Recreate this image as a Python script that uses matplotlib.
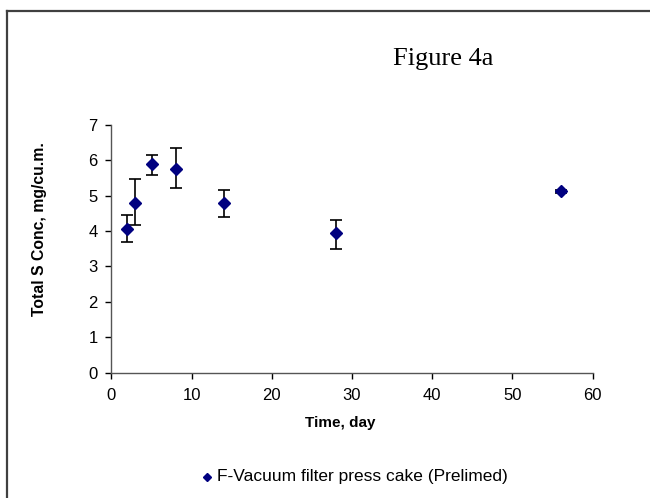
import matplotlib
matplotlib.use("Agg")
import matplotlib.pyplot as plt
from matplotlib.lines import Line2D

# data
days = [2, 3, 5, 8, 14, 28, 56]
conc = [4.05, 4.79, 5.89, 5.76, 4.79, 3.93, 5.12]
err_lo = [0.35, 0.63, 0.32, 0.54, 0.39, 0.44, 0.04]
err_hi = [0.40, 0.67, 0.26, 0.59, 0.37, 0.38, 0.04]
x_ticks = [0, 10, 20, 30, 40, 50, 60]
y_ticks = [0, 1, 2, 3, 4, 5, 6, 7]
series_label = "F-Vacuum filter press cake (Prelimed)"

W, H = 650, 498
fig = plt.figure(figsize=(W / 100, H / 100), dpi=100)
plt.rcParams["font.family"] = ["Liberation Sans", "DejaVu Sans"]

# outer frame (only left and top edges visible)
fig.add_artist(Line2D([7 / W, 7 / W], [0, 1 - 11 / H], transform=fig.transFigure,
                      color="#404040", lw=1.6))
fig.add_artist(Line2D([7 / W, 1], [1 - 11 / H, 1 - 11 / H], transform=fig.transFigure,
                      color="#404040", lw=1.6))

left, right = 111.4 / W, 592.7 / W
bottom, top = 1 - 372.7 / H, 1 - 124.7 / H
ax = fig.add_axes([left, bottom, right - left, top - bottom])

ax.errorbar(days, conc, yerr=[err_lo, err_hi], fmt="none", ecolor="black",
            elinewidth=1.2, capsize=4, capthick=1.2, zorder=2)
ax.plot(days, conc, linestyle="none", marker="D", markersize=6.5,
        color="#000080", markeredgecolor="#000080", zorder=3)

ax.set_xlim(0, 60)
ax.set_ylim(0, 7)
ax.set_xticks(x_ticks)
ax.set_yticks(y_ticks)
ax.tick_params(labelsize=12, direction="out", length=4, width=1, color="black")
ax.tick_params(axis="x", pad=7)
ax.tick_params(axis="y", pad=6)
ax.spines["top"].set_visible(False)
ax.spines["right"].set_visible(False)
for s in ("left", "bottom"):
    ax.spines[s].set_color("#555555")
    ax.spines[s].set_linewidth(1)

fig.text(40 / W, 1 - 229.5 / H, "Total S Conc, mg/cu.m.", rotation=90,
         fontsize=11.3, fontweight="bold", ha="center", va="center")
fig.text(340 / W, 1 - 423 / H, "Time, day", fontsize=11, fontweight="bold",
         ha="center", va="center")

fig.text(443 / W, 1 - 59 / H, "Figure 4a", fontsize=19,
         family=["Liberation Serif", "DejaVu Serif"], ha="center", va="center")

# legend
fig.add_artist(Line2D([207 / W], [1 - 477 / H], transform=fig.transFigure,
                      marker="D", markersize=4.5, color="#000080", linestyle="none"))
fig.text(217 / W, 1 - 476 / H, series_label, fontsize=12.5, ha="left", va="center")

fig.savefig("out.png", dpi=100)
